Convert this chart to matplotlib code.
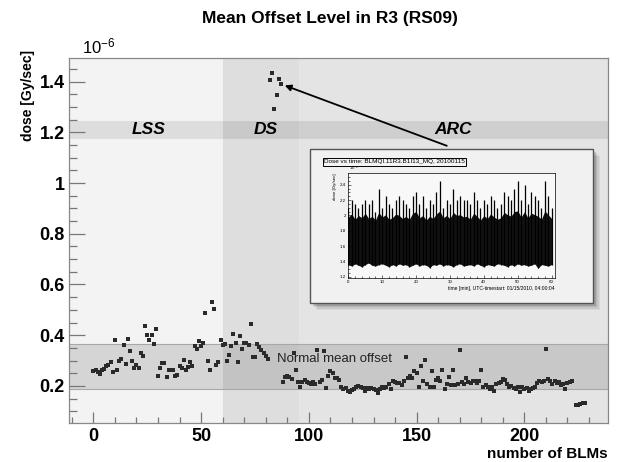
import matplotlib
matplotlib.use("Agg")
import matplotlib.pyplot as plt
import numpy as np
from matplotlib.patches import Rectangle

plt.rcParams['font.family'] = ['Liberation Sans', 'DejaVu Sans']
plt.rcParams['mathtext.fontset'] = 'custom'
plt.rcParams['mathtext.rm'] = 'Liberation Sans'
plt.rcParams['mathtext.bf'] = 'Liberation Sans:bold'

# ---------------- data ----------------
blm_lss_ds = [0.258, 0.263, 0.254, 0.248, 0.261, 0.265, 0.277, 0.281, 0.293, 0.254,
              0.380, 0.261, 0.298, 0.305, 0.363, 0.287, 0.386, 0.336, 0.298, 0.270,
              0.283, 0.271, 0.331, 0.319, 0.437, 0.402, 0.380, 0.402, 0.367, 0.425,
              0.238, 0.271, 0.290, 0.290, 0.234, 0.263, 0.263, 0.261, 0.241, 0.244,
              0.277, 0.270, 0.303, 0.261, 0.274, 0.295, 0.277, 0.356, 0.344, 0.377,
              0.359, 0.371, 0.486, 0.298, 0.261, 0.532, 0.502, 0.281, 0.295, 0.380,
              0.360, 0.367, 0.298, 0.323, 0.357, 0.404, 0.369, 0.296, 0.396, 0.347,
              0.369, 0.370, 0.362, 0.443, 0.316, 0.316, 0.367, 0.354, 0.340, 0.328,
              0.318, 0.307, 1.408, 1.436, 1.293, 1.348, 1.412, 1.392, 0.215, 0.234,
              0.241, 0.234, 0.228, 0.330, 0.261, 0.214]
blm_arc = [0.197, 0.215, 0.224, 0.217, 0.211, 0.206, 0.215, 0.208, 0.343, 0.215,
           0.224, 0.336, 0.191, 0.241, 0.258, 0.250, 0.232, 0.232, 0.225, 0.195,
           0.188, 0.192, 0.181, 0.178, 0.184, 0.187, 0.195, 0.201, 0.197, 0.192,
           0.181, 0.192, 0.188, 0.192, 0.188, 0.184, 0.171, 0.188, 0.195, 0.192,
           0.197, 0.208, 0.188, 0.221, 0.217, 0.211, 0.213, 0.204, 0.218, 0.316,
           0.232, 0.241, 0.232, 0.258, 0.250, 0.197, 0.277, 0.218, 0.303, 0.208,
           0.197, 0.258, 0.195, 0.224, 0.232, 0.221, 0.261, 0.188, 0.208, 0.234,
           0.205, 0.263, 0.205, 0.208, 0.343, 0.215, 0.208, 0.232, 0.215, 0.211,
           0.221, 0.219, 0.211, 0.219, 0.263, 0.197, 0.205, 0.197, 0.188, 0.197,
           0.181, 0.208, 0.211, 0.215, 0.228, 0.224, 0.208, 0.195, 0.201, 0.192,
           0.188, 0.195, 0.175, 0.195, 0.188, 0.192, 0.181, 0.188, 0.192, 0.197,
           0.211, 0.219, 0.215, 0.221, 0.345, 0.228, 0.221, 0.208, 0.219, 0.211,
           0.215, 0.205, 0.208, 0.188, 0.211, 0.215, 0.219]
blm_tail_idx = [224, 225, 226, 227, 228]
blm_tail = [0.125, 0.123, 0.128, 0.131, 0.133]

region_names = ['LSS', 'DS', 'ARC']
region_edges = [60, 95.5]
normal_band = [0.187, 0.367]
label_band = [1.175, 1.245]

# inset data: dose vs time (1e-6 Gy/s)
inset_t = list(range(61))
inset_upper = [2.10, 2.20, 2.15, 2.10, 2.15, 2.20, 2.15, 2.20, 2.05, 2.35,
               2.10, 2.25, 2.15, 2.10, 2.20, 2.25, 2.20, 2.15, 2.10, 2.25,
               2.30, 2.15, 2.25, 2.10, 2.20, 2.15, 2.30, 2.45, 2.10, 2.20,
               2.15, 2.35, 2.20, 2.25, 2.20, 2.20, 2.15, 2.30, 2.20, 2.10,
               2.20, 2.15, 2.25, 2.20, 2.10, 2.15, 2.30, 2.25, 2.20, 2.35,
               2.45, 2.20, 2.40, 2.15, 2.30, 2.25, 2.20, 2.10, 2.45, 2.25, 2.10]
inset_core = [1.98, 2.02, 1.95, 2.00, 1.97, 2.03, 1.96, 1.99, 1.94, 2.04,
              1.98, 2.01, 1.95, 1.97, 2.02, 2.00, 1.96, 1.99, 1.95, 2.03,
              2.05, 1.97, 2.00, 1.94, 1.99, 1.96, 2.02, 2.06, 1.97, 2.00,
              1.96, 2.04, 2.00, 2.01, 1.98, 1.99, 1.95, 2.03, 1.99, 1.94,
              2.00, 1.96, 2.02, 1.98, 1.95, 1.97, 2.04, 2.01, 1.99, 2.05,
              2.06, 1.98, 2.05, 1.97, 2.03, 2.01, 1.99, 1.95, 2.06, 2.01, 1.96]
inset_lower = [1.36, 1.34, 1.37, 1.35, 1.33, 1.36, 1.38, 1.35, 1.34, 1.36,
               1.37, 1.35, 1.33, 1.36, 1.34, 1.37, 1.35, 1.36, 1.33, 1.35,
               1.37, 1.34, 1.36, 1.35, 1.32, 1.36, 1.35, 1.37, 1.34, 1.36,
               1.35, 1.33, 1.36, 1.37, 1.34, 1.35, 1.36, 1.34, 1.37, 1.35,
               1.33, 1.36, 1.35, 1.34, 1.37, 1.36, 1.35, 1.33, 1.36, 1.34,
               1.37, 1.35, 1.36, 1.34, 1.35, 1.37, 1.31, 1.36, 1.35, 1.34, 1.36]

x_major = [0, 50, 100, 150, 200]
y_major = [0.2, 0.4, 0.6, 0.8, 1.0, 1.2, 1.4]
y_labels = ['0.2', '0.4', '0.6', '0.8', '1', '1.2', '1.4']

# ---------------- figure ----------------
W, H = 620, 462
fig = plt.figure(figsize=(W / 100, H / 100), dpi=100)
fig.patch.set_facecolor('white')

L, R, T, B = 69, 608, 58.3, 422.7
ax = fig.add_axes([L / W, 1 - B / H, (R - L) / W, (B - T) / H])
ax.set_facecolor('#f3f3f3')
xmin, xmax = -11.3, 238.8
ax.set_xlim(xmin, xmax)
ax.set_ylim(0.055, 1.492)

ax.axvspan(region_edges[0], region_edges[1], color='#dedede', lw=0, zorder=0)
ax.axvspan(region_edges[1], xmax, color='#e4e4e4', lw=0, zorder=0)
ax.axhspan(label_band[0], label_band[1], color='black', alpha=0.09, lw=0, zorder=0.5)
ax.axhspan(normal_band[0], normal_band[1], color='black', alpha=0.12, lw=0, zorder=0.5)
ax.axhline(normal_band[1], color='#a8a8a8', lw=0.8, zorder=0.6)
ax.axhline(normal_band[0], color='#a8a8a8', lw=0.8, zorder=0.6)

idx_a = np.arange(len(blm_lss_ds))
idx_b = np.arange(len(blm_lss_ds), len(blm_lss_ds) + len(blm_arc))
ms = 2.6
ax.plot(idx_a, blm_lss_ds, 's', color='#2a2a2a', ms=ms, mew=0, zorder=3)
ax.plot(idx_b, blm_arc, 's', color='#2a2a2a', ms=ms, mew=0, zorder=3)
ax.plot(blm_tail_idx, blm_tail, 's', color='#2a2a2a', ms=ms, mew=0, zorder=3)

mid_lbl = (label_band[0] + label_band[1]) / 2
ax.text(25.5, mid_lbl, region_names[0], ha='center', va='center', fontsize=12.5,
        fontweight='bold', fontstyle='italic', zorder=4)
ax.text(80, mid_lbl, region_names[1], ha='center', va='center', fontsize=12.5,
        fontweight='bold', fontstyle='italic', zorder=4)
ax.text(167, mid_lbl, region_names[2], ha='center', va='center', fontsize=12.5,
        fontweight='bold', fontstyle='italic', zorder=4)
ax.text(112, 0.305, 'Normal mean offset', ha='center', va='center', fontsize=9.5,
        color='#222222', zorder=4)

ax.annotate('', xy=(88.8, 1.385), xytext=(164, 1.147),
            arrowprops=dict(arrowstyle='-|>', color='black', lw=1.3,
                            mutation_scale=9, shrinkA=0, shrinkB=0), zorder=5)

# ticks
ax.set_xticks(x_major)
ax.set_xticks(np.arange(-10, 239, 10), minor=True)
ax.set_yticks(y_major)
ax.set_yticklabels(y_labels)
ax.set_yticks(np.arange(0.1, 1.49, 0.05), minor=True)
ax.tick_params(axis='both', which='both', direction='in', color='#777777',
               labelsize=13, width=0.9)
ax.tick_params(axis='y', which='major', length=11.5, pad=3)
ax.tick_params(axis='y', which='minor', length=5.8)
ax.tick_params(axis='x', which='major', length=8, pad=4)
ax.tick_params(axis='x', which='minor', length=4)
for lab in ax.get_xticklabels() + ax.get_yticklabels():
    lab.set_fontweight('bold')
for s in ax.spines.values():
    s.set_color('#888888')
    s.set_linewidth(0.9)

ax.set_ylabel('dose [Gy/sec]', loc='top', fontsize=10, fontweight='bold')
ax.yaxis.set_label_coords(-0.064, 1.022)
ax.set_xlabel('number of BLMs', loc='right', fontsize=11, fontweight='bold')
ax.xaxis.set_label_coords(1.0, -0.066)
ax.text(0.024, 1.006, r'$\mathrm{10^{-6}}$', transform=ax.transAxes,
        fontsize=12, ha='left', va='bottom')

fig.text(0.532, 1 - 18 / H, 'Mean Offset Level in R3 (RS09)', ha='center',
         va='center', fontsize=12.5, fontweight='bold')

# ---------------- inset picture ----------------
px0, px1, py0, py1 = 310, 593, 149.3, 303.3
# shadow
for k, a in enumerate([0.05, 0.07, 0.09, 0.12]):
    off = 7 - k * 1.5
    fig.patches.append(Rectangle(((px0 + off) / W, 1 - (py1 + off) / H),
                                 (px1 - px0) / W, (py1 - py0) / H,
                                 transform=fig.transFigure, facecolor='black',
                                 alpha=a, lw=0, zorder=5))
fig.patches.append(Rectangle((px0 / W, 1 - py1 / H), (px1 - px0) / W, (py1 - py0) / H,
                             transform=fig.transFigure, facecolor='#f1f1f1',
                             edgecolor='#555555', lw=1.0, zorder=6))

iax = fig.add_axes([348.3 / W, 1 - 278.3 / H, (555 - 348.3) / W, (278.3 - 173.3) / H])
iax.set_zorder(7)
iax.set_facecolor('#f8f8f8')
iax.set_xlim(0, 61)
iax.set_ylim(1.18, 2.55)
iax.vlines(inset_t, inset_lower, inset_upper, color='black', lw=0.9)
iax.fill_between(inset_t, inset_lower, inset_core, color='#111111', lw=0)
iax.set_xticks([0, 10, 20, 30, 40, 50, 60])
iax.set_xticks(np.arange(0, 61, 2), minor=True)
iax.set_yticks([1.2, 1.4, 1.6, 1.8, 2.0, 2.2, 2.4])
iax.set_yticklabels(['1.2', '1.4', '1.6', '1.8', '2', '2.2', '2.4'])
iax.set_yticks(np.arange(1.2, 2.55, 0.05), minor=True)
iax.tick_params(axis='both', which='both', direction='in', labelsize=3.2,
                length=2.5, width=0.4, pad=1.5)
iax.tick_params(which='minor', length=1.3)
for s in iax.spines.values():
    s.set_linewidth(0.5)
iax.set_ylabel('dose [Gy/sec]', fontsize=3.2, loc='top', labelpad=2)
iax.set_xlabel('time [min], UTC-timestart: 01/15/2010, 04:00:04', fontsize=3.6,
               loc='right', labelpad=1)
iax.text(0.005, 1.005, r'$\mathrm{10^{-6}}$', transform=iax.transAxes, fontsize=3.0,
         ha='left', va='bottom')
fig.text(324 / W, 1 - 162 / H, 'Dose vs time: BLMQI.11R3.B1I13_MQ, 20100115',
         fontsize=4.6, ha='left', va='center', zorder=8,
         bbox=dict(boxstyle='square,pad=0.2', facecolor='#f4f4f4',
                   edgecolor='black', lw=0.7))

fig.savefig('out.png', dpi=100)
